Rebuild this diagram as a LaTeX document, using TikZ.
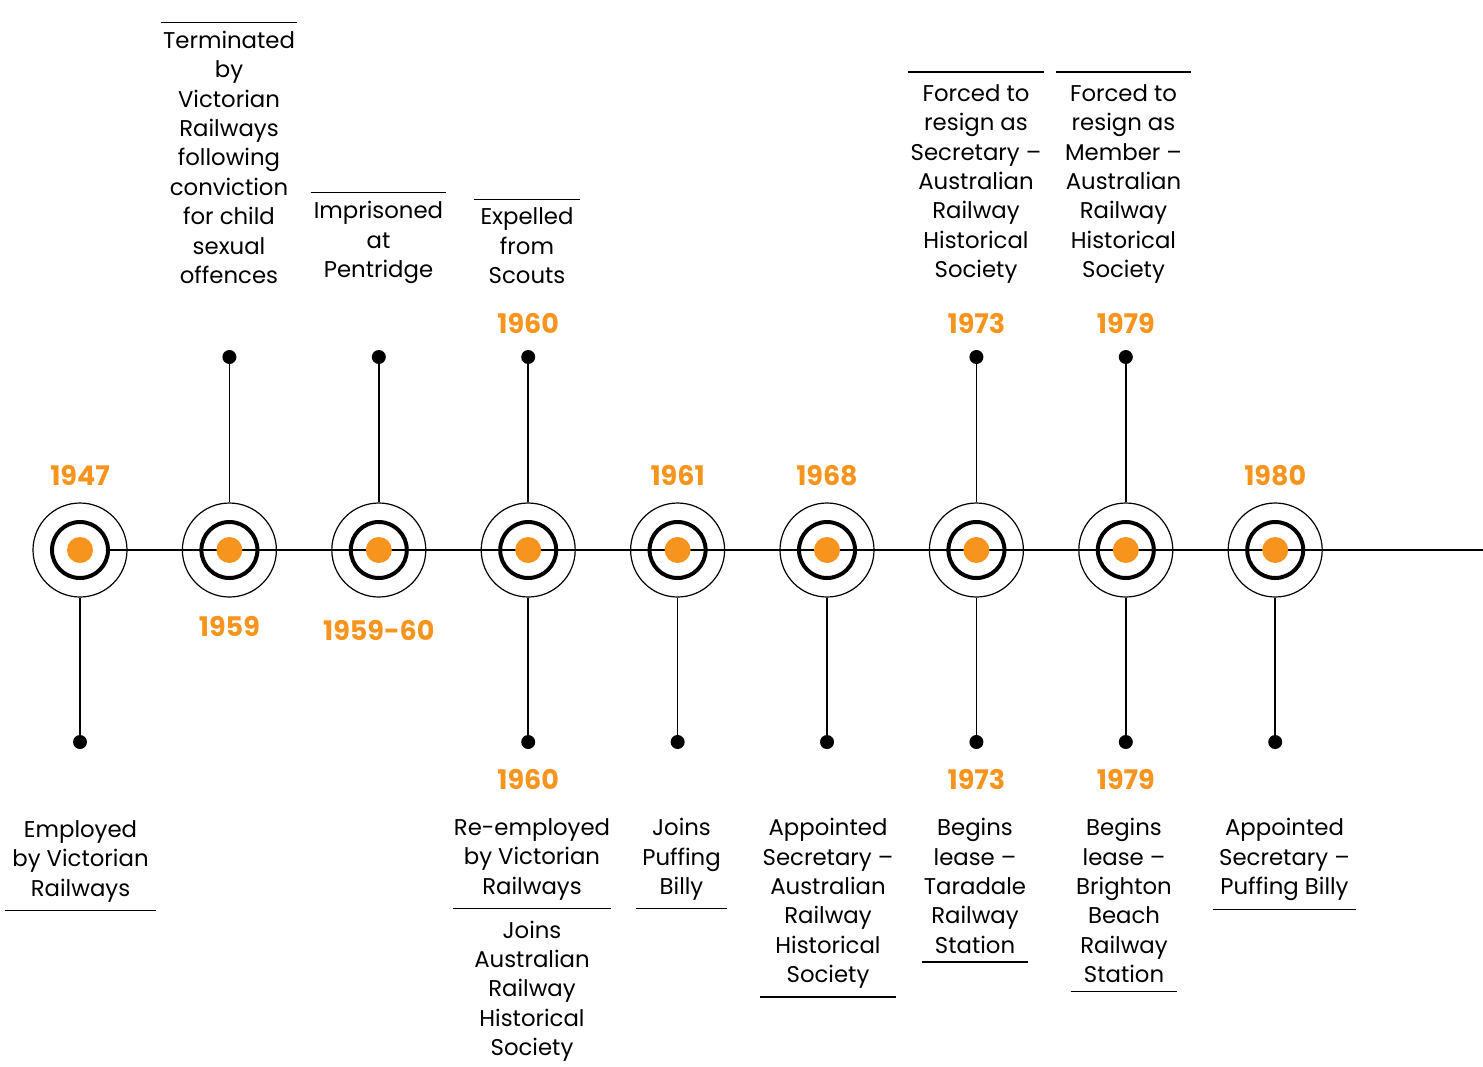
\documentclass[tikz,border=0pt]{standalone}
\usepackage{fontspec}
\setmainfont{Poppins}
\usetikzlibrary{positioning,backgrounds}
\definecolor{dotorange}{RGB}{247,148,29}
\tikzstyle{marker} = [circle, draw, line width=0.6pt, minimum size=47pt, inner sep=0pt, path picture={
   \draw[line width=2pt] (path picture bounding box.center) circle (14pt);
   \fill[dotorange] (path picture bounding box.center) circle (6.5pt);}]
\tikzstyle{pin} = [circle, fill, inner sep=0pt, minimum size=7pt]
\tikzstyle{year} = [text=dotorange, font=\bfseries\fontsize{13.5}{13.5}\selectfont, inner sep=0pt]
\tikzstyle{note} = [align=center, font=\fontsize{11.4}{14.7}\selectfont, inner xsep=0pt, inner ysep=4pt]
\tikzstyle{stem} = [line width=0.8pt]

\begin{document}
\begin{tikzpicture}[x=0.5pt, y=-0.5pt, node distance=74.7pt]
   \useasboundingbox (0,0) rectangle (1483,1066);
   % markers
   \node[marker] (m1) at (80,550) {};
   \node[marker] (m2) [right of=m1] {};
   \node[marker] (m3) [right of=m2] {};
   \node[marker] (m4) [right of=m3] {};
   \node[marker] (m5) [right of=m4] {};
   \node[marker] (m6) [right of=m5] {};
   \node[marker] (m7) [right of=m6] {};
   \node[marker] (m8) [right of=m7] {};
   \node[marker] (m9) [right of=m8] {};
   \coordinate (lineend) at (1483,550);

   % pins
   \node[pin] (t2) [above of=m2, node distance=96.5pt] {};
   \node[pin] (t3) [above of=m3, node distance=96.5pt] {};
   \node[pin] (t4) [above of=m4, node distance=96.5pt] {};
   \node[pin] (t7) [above of=m7, node distance=96.5pt] {};
   \node[pin] (t8) [above of=m8, node distance=96.5pt] {};
   \node[pin] (b1) [below of=m1, node distance=96pt] {};
   \node[pin] (b4) [below of=m4, node distance=96pt] {};
   \node[pin] (b5) [below of=m5, node distance=96pt] {};
   \node[pin] (b6) [below of=m6, node distance=96pt] {};
   \node[pin] (b7) [below of=m7, node distance=96pt] {};
   \node[pin] (b8) [below of=m8, node distance=96pt] {};
   \node[pin] (b9) [below of=m9, node distance=96pt] {};

   % years
   \node[year] (y1) [above=8pt of m1] {1947};
   \node[year] (y2) [below=9pt of m2] {1959};
   \node[year] (y3) [below=11pt of m3] {1959-60};
   \node[year] (y4) [above=8pt of t4] {1960};
   \node[year] (y4b) [below=10pt of b4] {1960};
   \node[year] (y5) [above=8pt of m5] {1961};
   \node[year] (y6) [above=8pt of m6] {1968};
   \node[year] (y7) [above=8pt of t7] {1973};
   \node[year] (y7b) [below=10pt of b7] {1973};
   \node[year] (y8) [above=8pt of t8] {1979};
   \node[year] (y8b) [below=10pt of b8] {1979};
   \node[year] (y9) [above=8pt of m9] {1980};

   % notes above
   \node[note, anchor=south, minimum width=68pt] (n2) at (229,292) {Terminated\\by\\Victorian\\Railways\\following\\conviction\\for child\\sexual\\offences};
   \node[note, anchor=south, minimum width=67.5pt] (n3) at (378.5,292) {Imprisoned\\at\\Pentridge};
   \node[note, anchor=south, minimum width=53pt] (n4) at (527,292) {Expelled\\from\\Scouts};
   \node[note, anchor=south, minimum width=68pt, inner ysep=6pt] (n7) at (976,296) {Forced to\\resign as\\Secretary \textendash\\Australian\\Railway\\Historical\\Society};
   \node[note, anchor=south, minimum width=67.5pt, inner ysep=6pt] (n8) at (1123.5,296) {Forced to\\resign as\\Member \textendash\\Australian\\Railway\\Historical\\Society};

   % notes below
   \node[note, anchor=north, minimum width=75.5pt] (e1) at (80.5,812) {Employed\\by Victorian\\Railways};
   \node[note, anchor=north, minimum width=79pt] (e4) at (532,810) {Re-employed\\by Victorian\\Railways};
   \node[note, below=2pt of e4, minimum width=79pt] (e4b) {Joins\\Australian\\Railway\\Historical\\Society};
   \node[note, anchor=north, minimum width=45.5pt] (e5) at (681.5,810) {Joins\\Puffing\\Billy};
   \node[note, anchor=north, minimum width=68pt] (e6) at (828,810) {Appointed\\Secretary \textendash\\Australian\\Railway\\Historical\\Society};
   \node[note, anchor=north, minimum width=53pt] (e7) at (975,810) {Begins\\lease \textendash\\Taradale\\Railway\\Station};
   \node[note, anchor=north, minimum width=53pt] (e8) at (1124,810) {Begins\\lease \textendash\\Brighton\\Beach\\Railway\\Station};
   \node[note, anchor=north, minimum width=71.5pt] (e9) at (1284.5,810) {Appointed\\Secretary \textendash\\Puffing Billy};

   % rules
   \foreach \n in {n2,n3,n4,n7,n8}
      \draw[line width=0.6pt] (\n.north west) -- (\n.north east);
   \foreach \n in {e1,e4,e5,e6,e7,e8,e9}
      \draw[line width=0.6pt] (\n.south west) -- (\n.south east);

   % stems
   \foreach \m in {2,3,4,7,8}
      \draw[stem] (m\m.north) -- (t\m);
   \foreach \m in {1,4,5,6,7,8,9}
      \draw[stem] (m\m.south) -- (b\m);

   % time line
   \begin{pgfonlayer}{background}
      \draw[stem] ([xshift=14pt]m1.center) -- (lineend);
   \end{pgfonlayer}
\end{tikzpicture}
\end{document}
